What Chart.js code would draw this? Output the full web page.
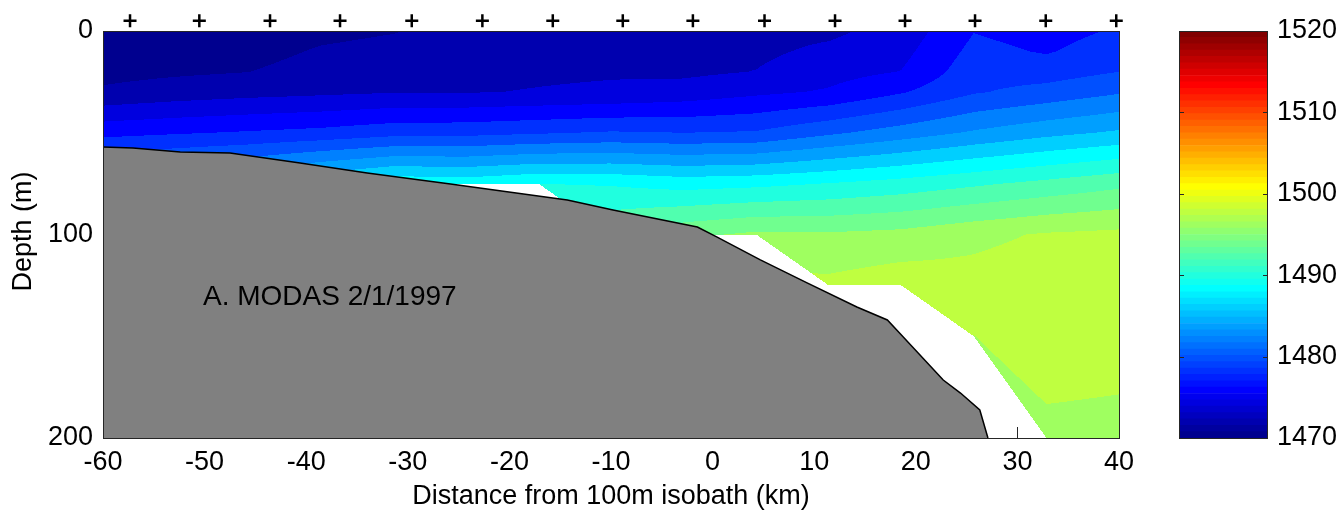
<!DOCTYPE html>
<html>
<head>
<meta charset="utf-8">
<script src="https://cdn.jsdelivr.net/npm/chart.js@4.4.1/dist/chart.umd.min.js"></script>
<style>
  html, body { margin: 0; padding: 0; background: #fff; }
  #wrap { position: relative; width: 1338px; height: 513px; overflow: hidden; }
  #main { position: absolute; left: 0; top: 0; }
  #bar { position: absolute; left: 1150px; top: 0; }
</style>
</head>
<body>
<div id="wrap">
  <canvas id="main" width="1338" height="513"></canvas>
  <canvas id="bar" width="188" height="513"></canvas>
</div>
<script>
// ---- data ----
// grid nodes of the MODAS section (km from 100m isobath) and standard depths (m)
const gridX = [-60, -52.86, -45.71, -38.57, -31.43, -24.29, -17.14, -10, -2.86, 4.29, 11.43, 18.57, 25.71, 32.86, 40];
const gridZ = [0, 10, 20, 30, 50, 75, 100, 125, 150, 200];
// sound speed (m/s) per node, one value per standard depth (missing below the data)
const soundSpeed = [
  [1470.6, 1470.9, 1471.4, 1472.3, 1477.4, 1484.0],
  [1470.8, 1471.1, 1471.7, 1472.9, 1477.8, 1485.0],
  [1471.0, 1471.3, 1471.97, 1473.3, 1478.2, 1486.0],
  [1471.5, 1472.2, 1472.8, 1473.6, 1478.6, 1488.0],
  [1471.9, 1472.6, 1473.2, 1473.9, 1479.3, 1489.5],
  [1472.6, 1473.0, 1473.5, 1473.9, 1479.4, 1489.2],
  [1473.0, 1473.3, 1473.7, 1474.1, 1479.8, 1490.0],
  [1473.3, 1473.5, 1473.8, 1474.3, 1480.2, 1489.8, 1494.0],
  [1473.5, 1473.6, 1473.6, 1474.8, 1480.0, 1489.2, 1495.5],
  [1473.4, 1473.6, 1474.05, 1475.6, 1480.2, 1489.5, 1496.4],
  [1473.58, 1474.42, 1475.25, 1476.22, 1481.63, 1490.08, 1496.28, 1498.5],
  [1474.8, 1475.4, 1476.05, 1477.82, 1482.94, 1490.79, 1496.6, 1499.2],
  [1477.94, 1478.56, 1479.19, 1479.81, 1484.27, 1491.66, 1497.5, 1498.8, 1497.98],
  [1477.2, 1477.83, 1479.06, 1480.73, 1485.41, 1492.55, 1498.2, 1499.2, 1499.0, 1497.5],
  [1478.25, 1479.1, 1480.0, 1481.8, 1486.3, 1493.5, 1498.5, 1499.0, 1498.8, 1497.4]
];
const levels = [1470, 1472, 1474, 1476, 1478, 1480, 1482, 1484, 1486, 1488, 1490, 1492, 1494, 1496, 1498];
const cMin = 1470, cMax = 1520;

// CTD stations (+ marks along the top)
const stationX = [-57.34, -50.52, -43.56, -36.67, -29.61, -22.66, -15.73, -8.84, -1.94, 5.11, 12.05, 18.94, 25.83, 32.79, 39.73];

// bottom profile
const bathyX = [-60, -57.05, -52.4, -47.5, -40.6, -34.0, -25.8, -14.3, -9.8, -1.5, 0.4, 4.7, 9.3, 14.2, 17.2, 18.4, 22.7, 24.4, 26.3, 27.1];
const bathyZ = [57.0, 57.5, 59.5, 60.0, 64.9, 69.8, 75.2, 83.0, 88.0, 96.3, 101.2, 112.5, 123.8, 135.6, 142.0, 148.4, 171.5, 177.9, 186.2, 200];

const label = 'A. MODAS 2/1/1997';

// ---- helpers ----
const FONT = '"Liberation Sans", Arial, Helvetica, sans-serif';
Chart.defaults.font.family = FONT;
Chart.defaults.font.size = 27;
Chart.defaults.color = '#000';

// matlab jet(64)
const u = k => (k < 1 || k > 47) ? 0 : k <= 16 ? k / 16 : k <= 31 ? 1 : (48 - k) / 16;
const jet = i0 => {
    const i = i0 + 1;
    const r = i >= 25 ? u(i - 24) : 0;
    const g = (i >= 9 && i <= 55) ? u(i - 8) : 0;
    const b = i <= 39 ? u(i + 8) : 0;
    return [r, g, b].map(q => Math.round(q * 255));
};
const colorIndex = v => Math.max(0, Math.min(63, Math.floor((v - cMin) / (cMax - cMin) * 64)));
const levelRGB = levels.map(l => jet(colorIndex(l)));

const bandRGB = v => {
    let k = 0;
    while (k < levels.length - 1 && v >= levels[k + 1]) k++;
    return levelRGB[k];
};

const val = (i, j) => {
    const q = soundSpeed[i][j];
    return q === undefined ? null : q;
};

// value at (x, depth); null where the section has no data
const sample = (xv, d) => {
    if (d < gridZ[0] || d > gridZ[gridZ.length - 1]) return null;
    let i = 0;
    while (i < gridX.length - 2 && xv > gridX[i + 1]) i++;
    let j = 0;
    while (j < gridZ.length - 2 && d > gridZ[j + 1]) j++;
    const tx = (xv - gridX[i]) / (gridX[i + 1] - gridX[i]);
    const tz = (d - gridZ[j]) / (gridZ[j + 1] - gridZ[j]);
    const a = val(i, j), b = val(i + 1, j), c = val(i, j + 1), e = val(i + 1, j + 1);
    const miss = [a, b, c, e].filter(q => q === null).length;
    if (miss === 0) return a * (1 - tx) * (1 - tz) + b * tx * (1 - tz) + c * (1 - tx) * tz + e * tx * tz;
    if (miss > 1) return null;
    if (c === null) return tz > tx ? null : a + (b - a) * tx + (e - b) * tz;
    if (e === null) return tx + tz > 1 ? null : a + (b - a) * tx + (c - a) * tz;
    if (b === null) return tz < tx ? null : a + (e - c) * tx + (c - a) * tz;
    return tx + tz < 1 ? null : e + (e - c) * (tx - 1) + (e - b) * (tz - 1);
};

// ---- contour field + frame ----
const sectionPlugin = {
    id: 'section',
    beforeDatasetsDraw(chart) {
        const { ctx, scales: { x, y } } = chart;
        const L = Math.round(x.getPixelForValue(-60)), R = Math.round(x.getPixelForValue(40));
        const T = Math.round(y.getPixelForValue(0)), B = Math.round(y.getPixelForValue(200));

        // inner tick marks (only show through the empty part of the section)
        ctx.save();
        ctx.strokeStyle = '#262626';
        ctx.lineWidth = 1;
        ctx.beginPath();
        x.ticks.forEach(t => {
            const px = Math.round(x.getPixelForValue(t.value)) + 0.5;
            ctx.moveTo(px, B); ctx.lineTo(px, B - 11);
            ctx.moveTo(px, T); ctx.lineTo(px, T + 11);
        });
        y.ticks.forEach(t => {
            const py = Math.round(y.getPixelForValue(t.value)) + 0.5;
            ctx.moveTo(L, py); ctx.lineTo(L + 11, py);
            ctx.moveTo(R, py); ctx.lineTo(R - 11, py);
        });
        ctx.stroke();
        ctx.restore();

        const w = R - L, h = B - T;
        const off = document.createElement('canvas');
        off.width = w; off.height = h;
        const octx = off.getContext('2d');
        const img = octx.createImageData(w, h);
        const xs = [];
        for (let i = 0; i < w; i++) xs.push(x.getValueForPixel(L + i + 0.5));
        for (let j = 0; j < h; j++) {
            const d = y.getValueForPixel(T + j + 0.5);
            for (let i = 0; i < w; i++) {
                const v = sample(xs[i], d);
                if (v === null) continue;
                const c = bandRGB(v);
                const k = (j * w + i) * 4;
                img.data[k] = c[0]; img.data[k + 1] = c[1]; img.data[k + 2] = c[2]; img.data[k + 3] = 255;
            }
        }
        octx.putImageData(img, 0, 0);
        ctx.drawImage(off, L, T);
    },
    afterDatasetsDraw(chart) {
        const { ctx, scales: { x, y } } = chart;
        const L = Math.round(x.getPixelForValue(-60)), R = Math.round(x.getPixelForValue(40));
        const T = Math.round(y.getPixelForValue(0)), B = Math.round(y.getPixelForValue(200));
        ctx.save();
        ctx.strokeStyle = '#262626';
        ctx.lineWidth = 1;
        ctx.strokeRect(L + 0.5, T + 0.5, R - L, B - T);
        ctx.fillStyle = '#000';
        ctx.font = '28px ' + FONT;
        ctx.textAlign = 'left';
        ctx.textBaseline = 'alphabetic';
        ctx.fillText(label, x.getPixelForValue(-50.16), y.getPixelForValue(134.6));
        ctx.restore();
    }
};

new Chart(document.getElementById('main'), {
    type: 'scatter',
    data: {
        datasets: [
            {
                label: 'bottom',
                data: bathyX.map((bx, i) => ({ x: bx, y: bathyZ[i] })),
                showLine: true,
                fill: { value: 200 },
                backgroundColor: '#808080',
                borderColor: '#000',
                borderWidth: 1.5,
                pointRadius: 0,
                tension: 0
            },
            {
                label: 'stations',
                data: stationX.map(sx => ({ x: sx, y: -5 })),
                pointStyle: 'cross',
                pointRadius: 6.5,
                borderColor: '#000',
                borderWidth: 2.5,
                clip: false
            }
        ]
    },
    options: {
        responsive: false,
        animation: false,
        events: [],
        layout: { padding: { left: 0, right: 219, top: 10, bottom: 0 } },
        plugins: { legend: { display: false }, tooltip: { enabled: false } },
        scales: {
            x: {
                type: 'linear',
                min: -60,
                max: 40,
                afterFit: s => { s.height = 75; s.paddingLeft = 0; s.paddingRight = 0; },
                ticks: { stepSize: 10, padding: 0, maxRotation: 0 },
                grid: { display: false },
                border: { display: false },
                title: { display: true, text: 'Distance from 100m isobath (km)', padding: { top: 0, bottom: 0 } }
            },
            y: {
                type: 'linear',
                reverse: true,
                min: -10.32,
                max: 200,
                afterFit: s => { s.width = 103; s.paddingTop = 0; s.paddingBottom = 0; },
                ticks: { stepSize: 100, padding: 2, includeBounds: false },
                grid: { display: false },
                border: { display: false },
                title: { display: true, text: 'Depth (m)\u00a0\u00a0', padding: { top: 7, bottom: 0 } }
            }
        }
    },
    plugins: [sectionPlugin]
});

// ---- colour bar ----
const barFrame = {
    id: 'barFrame',
    afterDatasetsDraw(chart) {
        const { ctx, chartArea: a, scales: { y } } = chart;
        ctx.save();
        ctx.strokeStyle = '#262626';
        ctx.lineWidth = 1;
        ctx.beginPath();
        y.ticks.forEach(t => {
            const py = Math.round(y.getPixelForValue(t.value)) + 0.5;
            ctx.moveTo(a.left, py); ctx.lineTo(a.left + 5, py);
            ctx.moveTo(a.right, py); ctx.lineTo(a.right - 5, py);
        });
        ctx.stroke();
        ctx.strokeRect(Math.round(a.left) + 0.5, Math.round(a.top) + 0.5, Math.round(a.right - a.left) - 1, Math.round(a.bottom - a.top));
        ctx.restore();
    }
};

const step = (cMax - cMin) / 64;
new Chart(document.getElementById('bar'), {
    type: 'bar',
    data: {
        labels: ['c'],
        datasets: Array.from({ length: 64 }, (_, k) => ({
            data: [[cMin + k * step, cMin + (k + 1) * step]],
            backgroundColor: 'rgb(' + jet(k).join(',') + ')',
            borderWidth: 0,
            grouped: false,
            barPercentage: 1,
            categoryPercentage: 1
        }))
    },
    options: {
        responsive: false,
        animation: false,
        events: [],
        layout: { padding: { left: 29, right: 0, top: 31, bottom: 75 } },
        plugins: { legend: { display: false }, tooltip: { enabled: false } },
        scales: {
            x: { display: false },
            y: {
                position: 'right',
                min: cMin,
                max: cMax,
                afterFit: s => { s.width = 70; s.paddingTop = 0; s.paddingBottom = 0; },
                ticks: { stepSize: 10, padding: 1, callback: v => String(v) },
                grid: { display: false },
                border: { display: false }
            }
        }
    },
    plugins: [barFrame]
});
</script>
</body>
</html>
